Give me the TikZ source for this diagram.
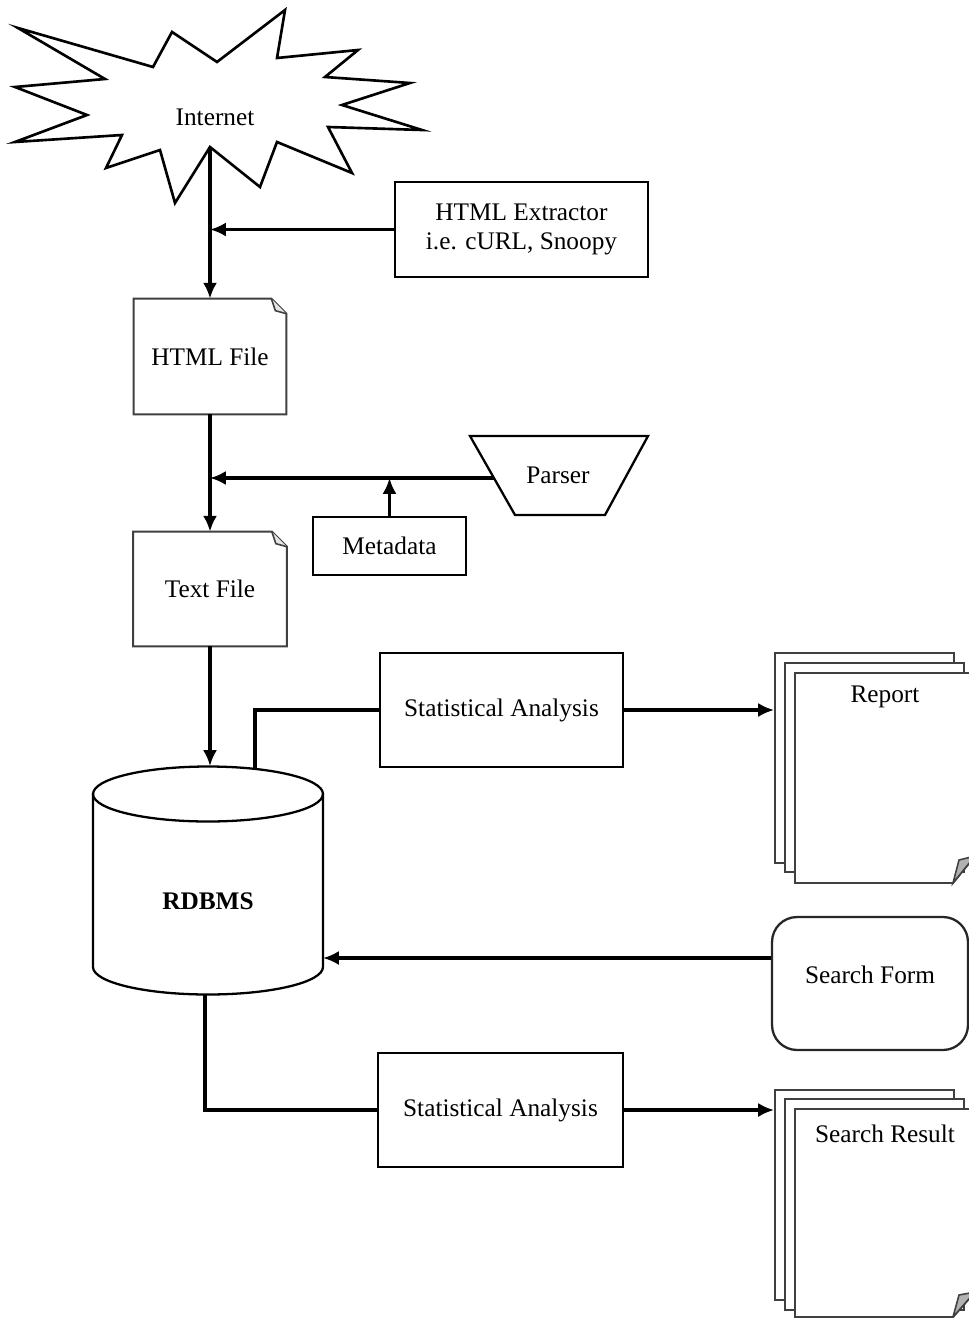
\documentclass[tikz,border=0pt]{standalone}
\usepackage{fontspec}
\setmainfont{Liberation Serif}
\usetikzlibrary{arrows.meta,calc}
\begin{document}
\begin{tikzpicture}[x=0.02cm,y=-0.02cm,
  txt/.style={font=\fontsize{14.4}{16.5}\selectfont},
  box/.style={draw,line width=1.3pt,inner sep=0pt,align=center,txt},
  plain/.style={inner sep=0pt,align=center,txt},
  conn/.style={line width=1.9pt},
  arr/.style={conn,-{Latex[length=9pt,width=8pt]}},
  outline/.style={line width=1.3pt,line join=miter},
  page/.style={draw=black!75,line width=1.1pt,fill=white},
  pageline/.style={draw=black!75,line width=1.1pt},
]
\useasboundingbox (0,0) rectangle (969,1318);
\clip (0,0) rectangle (969,1318);
\fill[white] (0,0) rectangle (969,1318);

% Internet star
\draw[outline,line width=1.5pt,fill=white] (18,28) -- (153,67) -- (172,32) -- (217,62) -- (285,10) -- (277,58)
  -- (358,50) -- (325,77) -- (410,83) -- (342,105) -- (422,130) -- (328,127) -- (352,173)
  -- (277,142) -- (260,187) -- (210,147) -- (175,203) -- (160,150) -- (106,168) -- (122,135)
  -- (15,142) -- (87,115) -- (15,87) -- (105,79) -- cycle;
\node[plain] (inet) at (215,117) {Internet};
\coordinate (starbot) at (210,147);

% HTML extractor
\node[box,minimum width=5.06cm,minimum height=1.9cm] (extr) at (521.5,229.5) {HTML Extractor\\i.e. cURL, Snoopy};

% HTML File
\node[plain,minimum width=3.04cm,minimum height=2.3cm] (html) at (210,356.5) {HTML File};
\draw[pageline] (html.north west) -- ($(html.north east)+(-15,0)$) -- ($(html.north east)+(0,15)$) -- (html.south east) -- (html.south west) -- cycle;
\draw[black!75,line width=0.9pt,fill=black!10] ($(html.north east)+(-15,0)$) -- ($(html.north east)+(-11,12)$) -- ($(html.north east)+(0,15)$);

% Parser
\draw[outline,fill=white] (470,436) -- (648,436) -- (605,515) -- (515,515) -- cycle;
\node[plain] (parser) at (558,475) {Parser};
\coordinate (pin) at (494,478);

% Metadata
\node[box,minimum width=3.06cm,minimum height=1.16cm] (meta) at (389.5,546) {Metadata};

% Text File
\node[plain,minimum width=3.06cm,minimum height=2.28cm] (text) at (210,589) {Text File};
\draw[pageline] (text.north west) -- ($(text.north east)+(-15,0)$) -- ($(text.north east)+(0,15)$) -- (text.south east) -- (text.south west) -- cycle;
\draw[black!75,line width=0.9pt,fill=black!10] ($(text.north east)+(-15,0)$) -- ($(text.north east)+(-11,12)$) -- ($(text.north east)+(0,15)$);

% RDBMS cylinder
\draw[outline,fill=white] (93,794) -- (93,967) arc[start angle=180,end angle=360,x radius=2.3cm,y radius=0.55cm]
  -- (323,794) arc[start angle=0,end angle=180,x radius=2.3cm,y radius=0.55cm] -- cycle;
\draw[outline] (93,794) arc[start angle=180,end angle=360,x radius=2.3cm,y radius=0.55cm];
\node[plain,font=\fontsize{14.4}{17}\selectfont\bfseries] (db) at (208,901) {RDBMS};
\coordinate (dbtop) at (210,766);
\coordinate (dbtop2) at (255,768);
\coordinate (dbright) at (323,958);
\coordinate (dbbot) at (205,995);

% Statistical analysis boxes
\node[box,minimum width=4.86cm,minimum height=2.28cm] (sa1) at (501.5,710) {Statistical Analysis};
\node[box,minimum width=4.9cm,minimum height=2.28cm] (sa2) at (500.5,1110) {Statistical Analysis};

% Report stack
\node[page,minimum width=3.58cm,minimum height=4.2cm,inner sep=0pt] (repback) at (864.5,758) {};
\draw[page] (785,663) rectangle (964,872);
\draw[page] (795,673) -- (975,673) -- (975,856) -- (953,883) -- (795,883) -- cycle;
\draw[black!75,line width=0.9pt,fill=black!30] (953,883) -- (959,860) -- (975,856) -- cycle;
\node[plain] (report) at (885,697) {Report};

% Search form
\node[box,draw=black!85,rounded corners=0.5cm,minimum width=3.92cm,minimum height=2.66cm,
  label={[plain,yshift=0.17cm]center:Search Form}] (form) at (870,983.5) {};

% Search result stack
\node[page,minimum width=3.58cm,minimum height=4.2cm,inner sep=0pt] (resback) at (864.5,1195) {};
\draw[page] (785,1099) rectangle (964,1310);
\draw[page] (795,1109) -- (975,1109) -- (975,1292) -- (953,1317) -- (795,1317) -- cycle;
\draw[black!75,line width=0.9pt,fill=black!30] (953,1317) -- (959,1295) -- (975,1292) -- cycle;
\node[plain] (result) at (885,1134) {Search Result};

% Connectors
\draw[arr] (html.north |- starbot) -- (html.north);
\draw[arr] (extr.west) -- (extr.west -| html.north);
\draw[arr] (html.south) -- (text.north);
\draw[arr] (pin) -- (pin -| html.south);
\draw[arr] (meta.north) -- (meta.north |- pin);
\draw[arr] (text.south) -- (dbtop);
\draw[conn] (dbtop2) |- (sa1.west);
\draw[arr] (sa1.east) -- (sa1.east -| repback.west);
\draw[arr] (dbright -| form.west) -- (dbright);
\draw[conn] (dbbot) |- (sa2.west);
\draw[arr] (sa2.east) -- (sa2.east -| resback.west);
\end{tikzpicture}
\end{document}
